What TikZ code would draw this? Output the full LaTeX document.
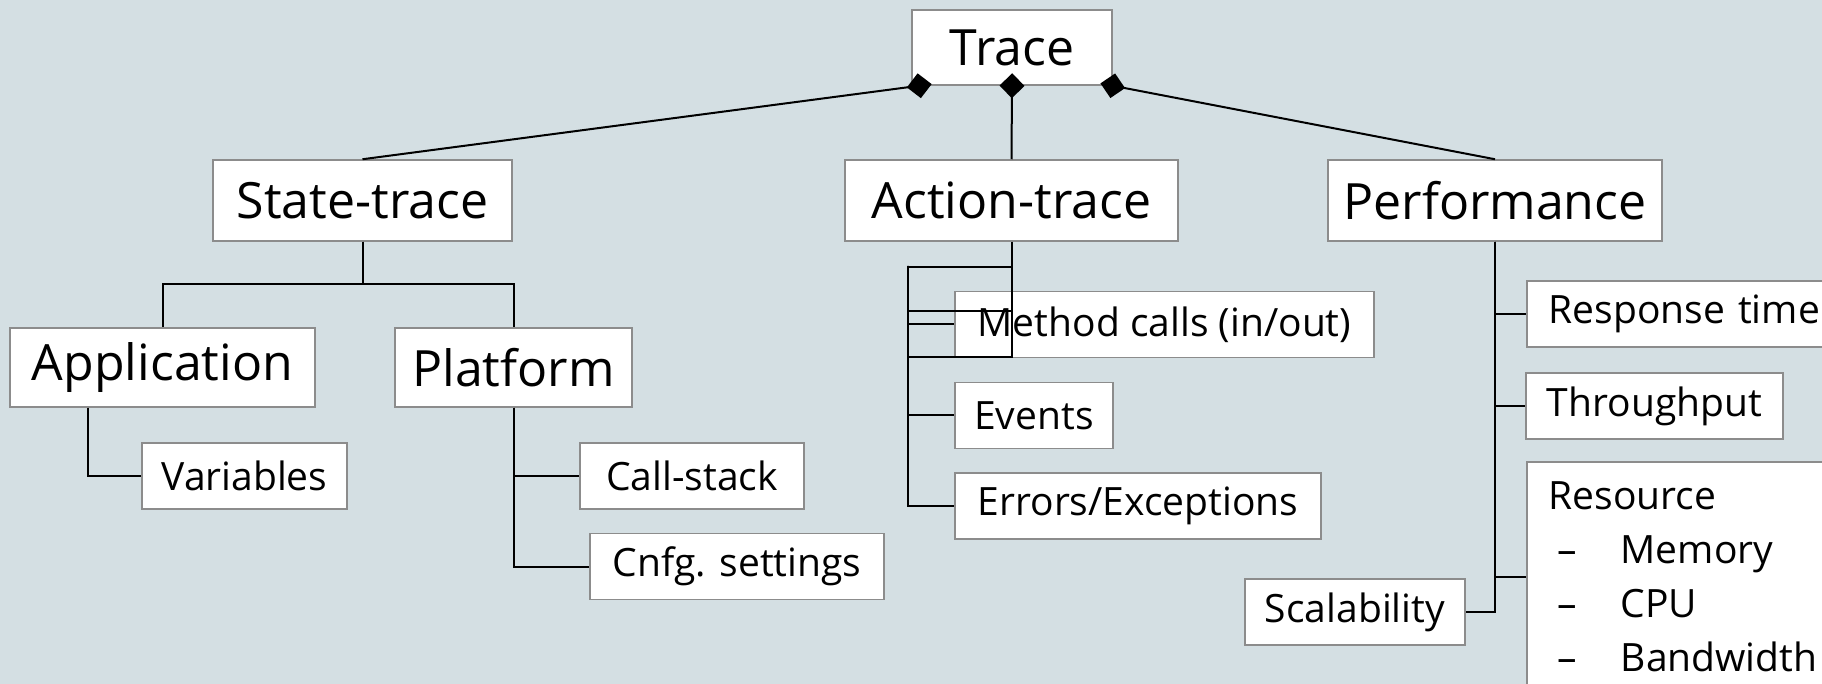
\documentclass[tikz,border=0pt]{standalone}
\usepackage{fontspec}
\setmainfont{Open Sans}
\usetikzlibrary{arrows.meta}

\definecolor{bgblue}{RGB}{212,223,227}
\definecolor{boxgray}{RGB}{140,140,140}

\tikzset{
  box/.style={draw=boxgray, fill=white, line width=0.75pt, inner sep=0pt},
  big/.style={box, font=\fontsize{25}{30}\selectfont},
  small/.style={box, font=\fontsize{19.5}{27}\selectfont, minimum height=33pt},
  link/.style={line width=1pt},
  agg/.style={link, {Diamond[length=12.5pt,width=12.5pt]}-, shorten <=-6.25pt}
}

\begin{document}
\begin{tikzpicture}[x=0.5pt,y=-0.5pt]
  \useasboundingbox (0,0) rectangle (1822,684);
  \fill[bgblue] (0,0) rectangle (1822,684);

  \node [big, minimum width=100pt, minimum height=37.5pt] (trace) at (1012,47.5) {Trace};
  \node [big, minimum width=149.5pt, minimum height=40.5pt] (state) at (362.5,200.5) {State-trace};
  \node [big, minimum width=166.5pt, minimum height=40.5pt] (action) at (1011.5,200.5) {Action-trace};
  \node [big, minimum width=167pt, minimum height=40.5pt] (perf) at (1495,200.5) {Performance};

  \node [big, minimum width=152.5pt, minimum height=39.5pt] (app) at (162.5,367.5) {Application};
  \node [big, minimum width=118.5pt, minimum height=39.5pt] (plat) at (513.5,367.5) {Platform};
  \node [small, minimum width=102.5pt] (var) at (244.5,476) {Variables};
  \node [small, minimum width=112pt] (call) at (692,476) {Call-stack};
  \node [small, minimum width=147pt] (cnfg) at (737,566.5) {Cnfg. settings};

  \node [small, minimum width=209.5pt] (method) at (1164.5,324.5) {Method calls (in/out)};
  \node [small, minimum width=79pt] (events) at (1034,415.5) {Events};
  \node [small, minimum width=183pt] (errors) at (1138,506) {Errors/Exceptions};

  \node [small, anchor=west, text width=150pt, align=left, inner xsep=11pt] (resp) at (1526,314) {Response time};
  \node [small, minimum width=128.5pt] (thru) at (1654.5,406) {Throughput};
  \node [small, anchor=west, text width=150pt, align=left, inner xsep=11pt, minimum height=115pt] (res) at (1526,577)
    {Resource\\
     \makebox[36pt][l]{\hspace*{4.5pt}–}Memory\\
     \makebox[36pt][l]{\hspace*{4.5pt}–}CPU\\
     \makebox[36pt][l]{\hspace*{4.5pt}–}Bandwidth};
  \node [small, minimum width=110pt] (scal) at (1355,612) {Scalability};

  % aggregation
  \draw[agg] ([xshift=4pt]trace.south west) -- (state.north);
  \draw[agg] (trace.south) -- (action.north);
  \draw[agg] (trace.south east) -- (perf.north);

  % state-trace
  \draw[link] (state.south) -- ++(0,42) -| (app.north);
  \draw[link] (state.south) -- ++(0,42) -| (plat.north);
  \draw[link] (app.south west) ++(79,0) |- (var.west);
  \draw[link] (plat.south) |- (call.west);
  \draw[link] (plat.south) |- (cnfg.west);

  % action-trace
  \coordinate (abus) at (908,266);
  \draw[link] (action.south) -- ++(0,116);
  \draw[link] (action.south) ++(0,25) -| (abus) |- (errors.west);
  \draw[link] (abus) |- (method.west);
  \draw[link] (abus) |- (events.west);
  \draw[link] (abus) ++(0,45) -- ++(104,0);
  \draw[link] (abus) ++(0,91) -- ++(104,0);

  % performance
  \draw[link] (perf.south) |- (resp.west);
  \draw[link] (perf.south) |- (thru.west);
  \draw[link] (perf.south) |- (res.west);
  \draw[link] (perf.south) |- (scal.east);
\end{tikzpicture}
\end{document}
